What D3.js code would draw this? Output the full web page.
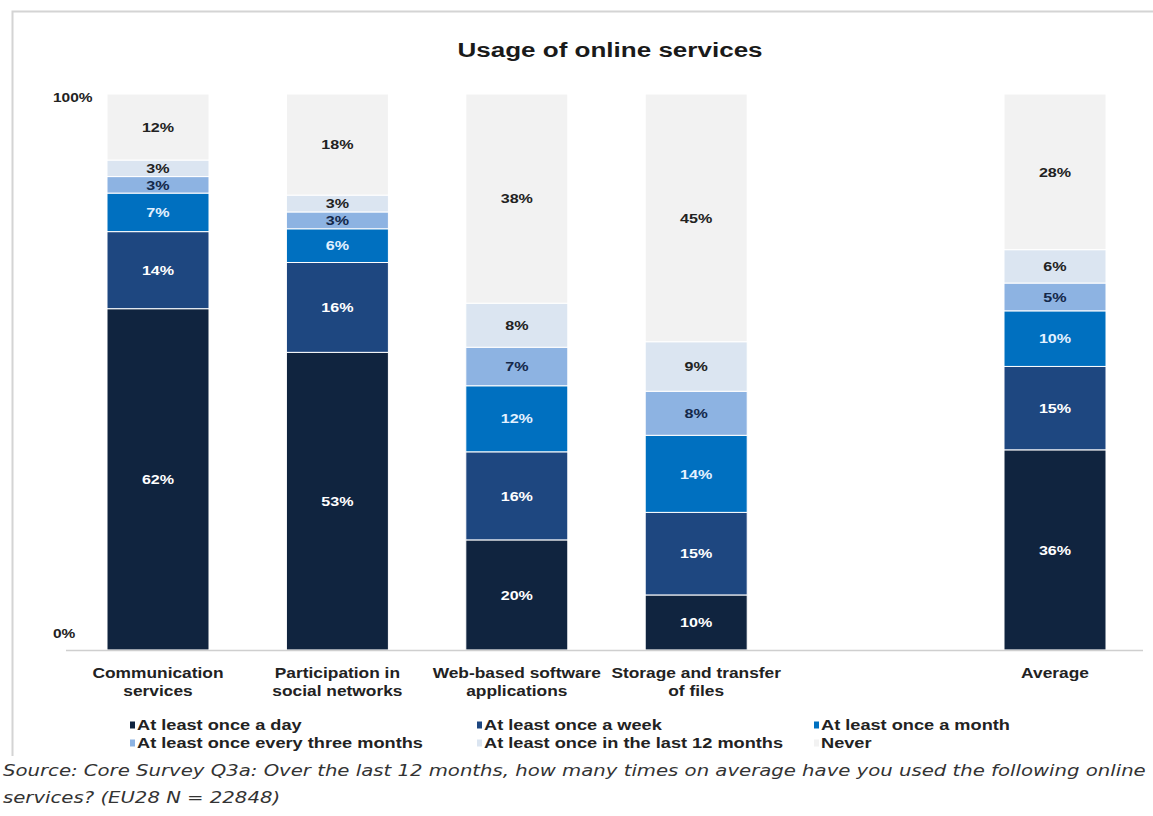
<!DOCTYPE html>
<html>
<head>
<meta charset="utf-8">
<script src="https://cdn.jsdelivr.net/npm/d3@7"></script>
<style>
  body { margin: 0; background: #fff; overflow: hidden; }
</style>
</head>
<body>
<div id="chart"></div>
<script>
// categories (the empty one is the gap before "Average")
var categories = ["comm", "social", "web", "storage", "gap", "avg"];
var categoryLabels = [
    ["Communication", "services"],
    ["Participation in", "social networks"],
    ["Web-based software", "applications"],
    ["Storage and transfer", "of files"],
    [],
    ["Average"]
];
var seriesNames = ["At least once a day", "At least once a week", "At least once a month",
    "At least once every three months", "At least once in the last 12 months", "Never"];
var seriesKeys = ["day", "week", "month", "three", "year", "never"];

// values per series, in the order of categories
var dayValues    = [62, 53, 20, 10, 0, 36];
var weekValues   = [14, 16, 16, 15, 0, 15];
var monthValues  = [7, 6, 12, 14, 0, 10];
var threeValues  = [3, 3, 7, 8, 0, 5];
var yearValues   = [3, 3, 8, 9, 0, 6];
var neverValues  = [12, 18, 38, 45, 0, 28];
var yTicks = [0, 1];

var colors = ["#10243f", "#1e4780", "#0070c0", "#8db3e2", "#dbe5f1", "#f2f2f2"];
var labelColors = ["#ffffff", "#ffffff", "#e3f1ff", "#14284a", "#222222", "#222222"];

var FONT = '"Liberation Sans", Arial, sans-serif';
var SX = 1.24; // the original picture is stretched sideways

var W = 1153, H = 816;
var svg = d3.select('#chart').append('svg')
    .attr('width', W)
    .attr('height', H);

// puts a text at x,y, stretched sideways like the original
function place(sel, x, y, sx) {
    sel.attr('transform', function (d, i) {
        var xx = typeof x == 'function' ? x(d, i) : x;
        var yy = typeof y == 'function' ? y(d, i) : y;
        return 'translate(' + xx + ',' + yy + ') scale(' + (sx || SX) + ',1)';
    });
    return sel;
}

// frame
svg.append('path')
    .attr('d', 'M12.5,756 L12.5,11.5 L1153,11.5')
    .attr('fill', 'none')
    .attr('stroke', '#d4d4d4')
    .attr('stroke-width', 2);

place(svg.append('text'), 610, 57)
    .attr('text-anchor', 'middle')
    .style('font-family', FONT)
    .attr('font-size', 21)
    .attr('font-weight', 'bold')
    .attr('fill', '#1a1a1a')
    .text('Usage of online services');

var table = categories.map(function (c, i) {
    return {
        cat: c,
        day: dayValues[i], week: weekValues[i], month: monthValues[i],
        three: threeValues[i], year: yearValues[i], never: neverValues[i]
    };
}).filter(function (d) { return d.cat != "gap"; });

var stack = d3.stack().keys(seriesKeys).offset(d3.stackOffsetExpand);
var layers = stack(table);

var xScale = d3.scalePoint().domain(categories).range([158, 1055]);
var barWidth = 102;
var yScale = d3.scaleLinear().domain([0, 1]).range([650, 94]);

var layerG = svg.selectAll('.layer')
    .data(layers)
    .enter()
    .append('g')
    .attr('class', 'layer');

function pieces(d) {
    return d.map(function (p) { return { p: p, i: d.index, key: d.key }; });
}

layerG.selectAll('rect')
    .data(pieces)
    .enter()
    .append('rect')
    .attr('x', function (d) { return xScale(d.p.data.cat) - barWidth / 2; })
    .attr('y', function (d) { return yScale(d.p[1]); })
    .attr('width', barWidth)
    .attr('height', function (d) { return yScale(d.p[0]) - yScale(d.p[1]); })
    .attr('fill', function (d) { return colors[d.i]; })
    .attr('stroke', '#ffffff')
    .attr('stroke-width', 1);

place(layerG.selectAll('text')
    .data(pieces)
    .enter()
    .append('text'),
    function (d) { return xScale(d.p.data.cat); },
    function (d) { return (yScale(d.p[0]) + yScale(d.p[1])) / 2; })
    .attr('dy', '0.36em')
    .attr('text-anchor', 'middle')
    .style('font-family', FONT)
    .attr('font-size', 13)
    .attr('font-weight', 'bold')
    .attr('fill', function (d) { return labelColors[d.i]; })
    .text(function (d) { return d.p.data[d.key] + '%'; });

// baseline
svg.append('line')
    .attr('x1', 66).attr('x2', 1143)
    .attr('y1', yScale(0) + 0.5).attr('y2', yScale(0) + 0.5)
    .attr('stroke', '#cfcfcf')
    .attr('stroke-width', 1.5);

// y tick labels
place(svg.selectAll('.ytick')
    .data(yTicks)
    .enter()
    .append('text')
    .attr('class', 'ytick'),
    53,
    function (d) { return yScale(d) + (d == 0 ? -17 : 3); })
    .attr('dy', '0.36em')
    .style('font-family', FONT)
    .attr('font-size', 12.5)
    .attr('font-weight', 'bold')
    .attr('fill', '#222')
    .text(function (d) { return d3.format('.0%')(d); });

// category labels
var catG = place(svg.selectAll('.cat')
    .data(categories)
    .enter()
    .append('text')
    .attr('class', 'cat'),
    function (d) { return xScale(d); }, 678)
    .attr('text-anchor', 'middle')
    .style('font-family', FONT)
    .attr('font-size', 14)
    .attr('font-weight', 'bold')
    .attr('fill', '#222');

catG.selectAll('tspan')
    .data(function (d, i) { return categoryLabels[i]; })
    .enter()
    .append('tspan')
    .attr('x', 0)
    .attr('dy', function (d, i) { return i == 0 ? 0 : 18; })
    .text(function (d) { return d; });

// legend
var legendX = [130, 477, 814];
var legendY = [725, 743];
var legend = svg.selectAll('.legend')
    .data(seriesNames)
    .enter()
    .append('g')
    .attr('class', 'legend')
    .attr('transform', function (d, i) {
        return 'translate(' + legendX[i % 3] + ',' + legendY[Math.floor(i / 3)] + ')';
    });

legend.append('rect')
    .attr('x', 0).attr('y', -3.5)
    .attr('width', 5).attr('height', 7)
    .attr('fill', function (d, i) { return colors[i]; });

place(legend.append('text'), 7, 0, 1.3)
    .attr('dy', '0.36em')
    .style('font-family', FONT)
    .attr('font-size', 14)
    .attr('font-weight', 'bold')
    .attr('fill', '#222')
    .text(function (d) { return d; });

// source note
var source = place(svg.append('text'), 3, 0, 1.23)
    .style('font-family', '"DejaVu Sans", Verdana, sans-serif')
    .style('font-style', 'italic')
    .attr('font-size', 16)
    .attr('fill', '#333');
source.append('tspan').attr('x', 0).attr('y', 776)
    .text('Source: Core Survey Q3a: Over the last 12 months, how many times on average have you used the following online');
source.append('tspan').attr('x', 0).attr('y', 803)
    .text('services? (EU28 N = 22848)');
</script>
</body>
</html>
